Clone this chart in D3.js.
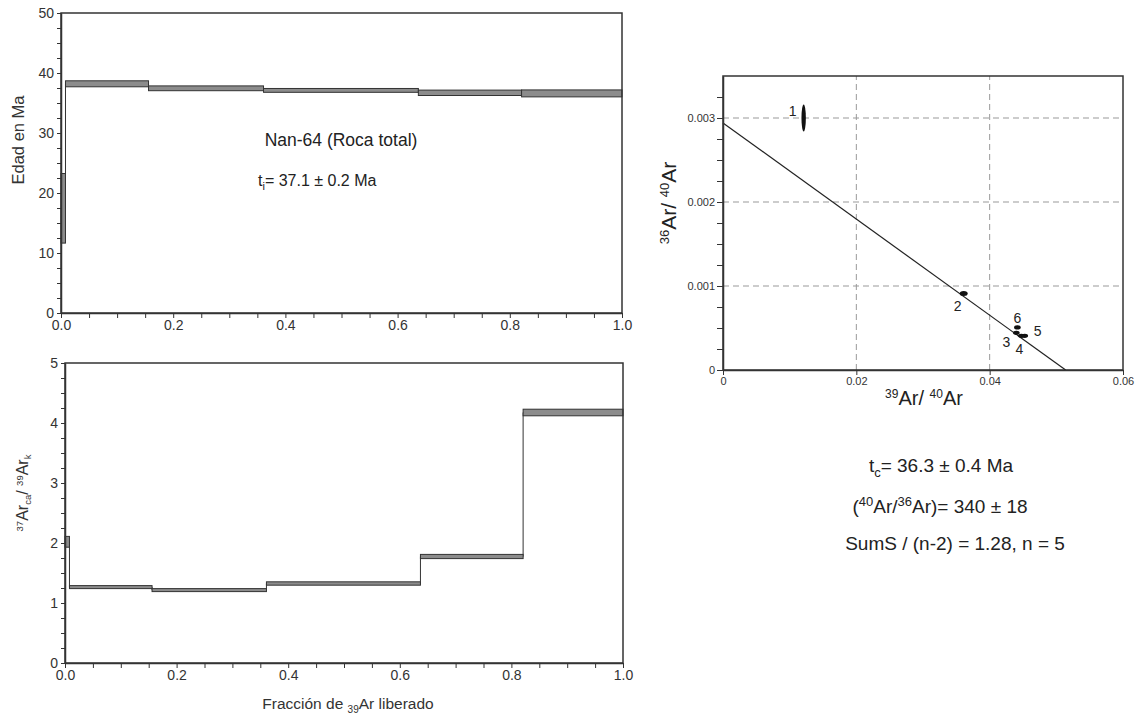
<!DOCTYPE html>
<html>
<head>
<meta charset="utf-8">
<script src="https://cdn.jsdelivr.net/npm/d3@7"></script>
<style>
  body { margin: 0; background: #fff; }
  svg { font-family: "Liberation Sans", Arial, sans-serif; }
  .axis path, .axis line { stroke: #333; }
  .axis text { fill: #333; }
</style>
</head>
<body>
<svg width="1137" height="714"></svg>
<script>
// cumulative 39Ar fraction at the step edges
var fractions = [0, 0.008, 0.156, 0.361, 0.637, 0.821, 1.0];
// apparent ages (Ma) and half widths
var ages = [17.45, 38.2, 37.45, 37.1, 36.7, 36.6];
var ageErr = [5.8, 0.5, 0.4, 0.32, 0.45, 0.58];
// 37Ar_ca / 39Ar_k and half widths
var caK = [2.02, 1.265, 1.215, 1.325, 1.775, 4.175];
var caKErr = [0.09, 0.025, 0.025, 0.028, 0.035, 0.055];
// isochron points
var isoLabels = ['1', '2', '6', '3', '4', '5'];
var isoX = [0.0121, 0.0361, 0.04416, 0.0440, 0.04476, 0.04526];
var isoY = [0.00300, 0.00091, 0.000507, 0.000443, 0.000407, 0.000407];
var isoXErr = [0.00033, 0.0006, 0.0005, 0.0005, 0.0005, 0.0005];
var isoYErr = [0.00016, 0.00003, 0.000025, 0.000025, 0.000025, 0.000025];
// fitted isochron: y intercept and x intercept
var fitLine = [[0, 0.002941], [0.0514, 0]];

var svg = d3.select('svg');

function frame(g, x, y) {
  g.append('rect')
    .attr('x', x.range()[0]).attr('y', y.range()[1])
    .attr('width', x.range()[1] - x.range()[0])
    .attr('height', y.range()[0] - y.range()[1])
    .attr('fill', 'none').attr('stroke', '#333').attr('stroke-width', 1.5);
}

function steps(g, x, y, vals, errs) {
  var pts = [];
  vals.forEach(function(v, i) {
    pts.push([fractions[i], v]);
    pts.push([fractions[i + 1], v]);
  });
  g.append('path')
    .attr('d', d3.line().x(function(d) { return x(d[0]); }).y(function(d) { return y(d[1]); })(pts))
    .attr('fill', 'none').attr('stroke', '#333').attr('stroke-width', 1);
  g.selectAll('rect.box').data(vals).enter()
    .append('rect')
    .classed('box', true)
    .attr('x', function(d, i) { return x(fractions[i]); })
    .attr('width', function(d, i) { return x(fractions[i + 1]) - x(fractions[i]); })
    .attr('y', function(d, i) { return y(d + errs[i]); })
    .attr('height', function(d, i) { return y(d - errs[i]) - y(d + errs[i]); })
    .attr('fill', '#8c8c8c').attr('stroke', '#333').attr('stroke-width', 1);
}

function fracAxis(g, x, y0) {
  g.append('g').attr('class', 'axis')
    .attr('transform', 'translate(0,' + y0 + ')')
    .call(d3.axisBottom(x)
      .tickValues(d3.range(0, 1.001, 0.05))
      .tickSize(5).tickSizeOuter(0).tickPadding(2)
      .tickFormat(function(d) { return Math.round(d * 100) % 20 === 0 ? d3.format('.1f')(d) : ''; }))
    .call(function(a) { a.select('.domain').attr('stroke-width', 1.5); })
    .selectAll('text').style('font-size', '14px');
}

// ---- age spectrum ----
var x1 = d3.scaleLinear().domain([0, 1]).range([61, 622]);
var y1 = d3.scaleLinear().domain([0, 50]).range([313, 13]);
var g1 = svg.append('g');
steps(g1, x1, y1, ages, ageErr);
frame(g1, x1, y1);
fracAxis(g1, x1, 313);
g1.append('g').attr('class', 'axis')
  .attr('transform', 'translate(61,0)')
  .call(d3.axisLeft(y1)
    .tickValues(d3.range(0, 50.01, 2.5))
    .tickSize(4).tickSizeOuter(0).tickPadding(3)
    .tickFormat(function(d) { return d % 10 === 0 ? d : ''; }))
  .call(function(a) { a.select('.domain').attr('stroke-width', 1.5); })
  .selectAll('text').style('font-size', '14px');
g1.append('text')
  .attr('transform', 'translate(24,140) rotate(-90)')
  .attr('text-anchor', 'middle').attr('fill', '#333').style('font-size', '16.5px')
  .text('Edad en Ma');
g1.append('text')
  .attr('x', 341).attr('y', 146).attr('text-anchor', 'middle')
  .attr('fill', '#222').style('font-size', '17.5px')
  .text('Nan-64 (Roca total)');
var ti = g1.append('text').attr('x', 258).attr('y', 186).attr('fill', '#222').style('font-size', '16px');
ti.append('tspan').text('t');
ti.append('tspan').attr('dy', 4).style('font-size', '11px').text('i');
ti.append('tspan').attr('dy', -4).text('= 37.1 \u00b1 0.2 Ma');

// ---- Ca/K spectrum ----
var x2 = d3.scaleLinear().domain([0, 1]).range([65, 623]);
var y2 = d3.scaleLinear().domain([0, 5]).range([663, 363]);
var g2 = svg.append('g');
steps(g2, x2, y2, caK, caKErr);
frame(g2, x2, y2);
fracAxis(g2, x2, 663);
g2.append('g').attr('class', 'axis')
  .attr('transform', 'translate(65,0)')
  .call(d3.axisLeft(y2)
    .tickValues(d3.range(0, 5.001, 0.25))
    .tickSize(4).tickSizeOuter(0).tickPadding(3)
    .tickFormat(function(d) { return d % 1 === 0 ? d : ''; }))
  .call(function(a) { a.select('.domain').attr('stroke-width', 1.5); })
  .selectAll('text').style('font-size', '14px');
var ylab2 = g2.append('text')
  .attr('transform', 'translate(28,493) rotate(-90)')
  .attr('text-anchor', 'middle').attr('fill', '#333').style('font-size', '16px');
ylab2.append('tspan').attr('dy', -5).style('font-size', '9.5px').text('37');
ylab2.append('tspan').attr('dy', 5).text('Ar');
ylab2.append('tspan').attr('dy', 3).style('font-size', '9.5px').text('ca');
ylab2.append('tspan').attr('dy', -3).text('/ ');
ylab2.append('tspan').attr('dy', -5).style('font-size', '9.5px').text('39');
ylab2.append('tspan').attr('dy', 5).text('Ar');
ylab2.append('tspan').attr('dy', 3).style('font-size', '9.5px').text('k');
var xlab2 = g2.append('text')
  .attr('x', 348).attr('y', 709).attr('text-anchor', 'middle')
  .attr('fill', '#333').style('font-size', '15.5px');
xlab2.append('tspan').text('Fracci\u00f3n de ');
xlab2.append('tspan').attr('dy', 4).style('font-size', '10px').text('39');
xlab2.append('tspan').attr('dy', -4).text('Ar liberado');

// ---- isochron ----
var x3 = d3.scaleLinear().domain([0, 0.06]).range([723, 1123]);
var y3 = d3.scaleLinear().domain([0, 0.0035]).range([370, 76]);
var g3 = svg.append('g');
g3.selectAll('line.vgrid').data([0.02, 0.04]).enter()
  .append('line').classed('vgrid', true)
  .attr('x1', function(d) { return x3(d); }).attr('x2', function(d) { return x3(d); })
  .attr('y1', y3(0)).attr('y2', y3(0.0035))
  .attr('stroke', '#999').attr('stroke-dasharray', '6,4');
g3.selectAll('line.hgrid').data([0.001, 0.002, 0.003]).enter()
  .append('line').classed('hgrid', true)
  .attr('y1', function(d) { return y3(d); }).attr('y2', function(d) { return y3(d); })
  .attr('x1', x3(0)).attr('x2', x3(0.06))
  .attr('stroke', '#999').attr('stroke-dasharray', '6,4');
frame(g3, x3, y3);
g3.append('path')
  .attr('d', d3.line().x(function(d) { return x3(d[0]); }).y(function(d) { return y3(d[1]); })(fitLine))
  .attr('fill', 'none').attr('stroke', '#222').attr('stroke-width', 1.2);
g3.selectAll('ellipse').data(isoX).enter()
  .append('ellipse')
  .attr('cx', function(d) { return x3(d); })
  .attr('cy', function(d, i) { return y3(isoY[i]); })
  .attr('rx', function(d, i) { return x3(d + isoXErr[i]) - x3(d); })
  .attr('ry', function(d, i) { return y3(isoY[i] - isoYErr[i]) - y3(isoY[i]); })
  .attr('fill', '#111');
// label offsets from each ellipse centre
var labelOffset = { '1': [-11, -2], '2': [-6, 17], '6': [0, -4], '3': [-10, 14], '4': [-2, 18], '5': [13, 0] };
g3.selectAll('text.pt').data(isoLabels).enter()
  .append('text').classed('pt', true)
  .attr('x', function(d, i) { return x3(isoX[i]) + labelOffset[d][0]; })
  .attr('y', function(d, i) { return y3(isoY[i]) + labelOffset[d][1]; })
  .attr('text-anchor', 'middle').attr('fill', '#222').style('font-size', '14px')
  .text(function(d) { return d; });
g3.append('g').attr('class', 'axis')
  .attr('transform', 'translate(0,370)')
  .call(d3.axisBottom(x3)
    .tickValues([0, 0.02, 0.04, 0.06])
    .tickSize(5).tickSizeOuter(0).tickPadding(2)
    .tickFormat(function(d) { return d === 0 ? '0' : d3.format('.2f')(d); }))
  .call(function(a) { a.select('.domain').attr('stroke-width', 1.5); })
  .selectAll('text').style('font-size', '11px');
g3.append('g').attr('class', 'axis')
  .attr('transform', 'translate(723,0)')
  .call(d3.axisLeft(y3)
    .tickValues(d3.range(0, 14).map(function(k) { return k * 0.00025; }))
    .tickSize(6).tickSizeOuter(0).tickPadding(2)
    .tickFormat(function(d) {
      var k = Math.round(d / 0.00025);
      return k % 4 === 0 ? (k === 0 ? '0' : d3.format('.3f')(d)) : '';
    }))
  .call(function(a) { a.select('.domain').attr('stroke-width', 1.5); })
  .selectAll('text').style('font-size', '11px');
var ylab3 = g3.append('text')
  .attr('transform', 'translate(676,203) rotate(-90)')
  .attr('text-anchor', 'middle').attr('fill', '#222').style('font-size', '21px');
ylab3.append('tspan').attr('dy', -7).style('font-size', '13px').text('36');
ylab3.append('tspan').attr('dy', 7).text('Ar/ ');
ylab3.append('tspan').attr('dy', -7).style('font-size', '13px').text('40');
ylab3.append('tspan').attr('dy', 7).text('Ar');
var xlab3 = g3.append('text')
  .attr('x', 924).attr('y', 405).attr('text-anchor', 'middle')
  .attr('fill', '#222').style('font-size', '20px');
xlab3.append('tspan').attr('dy', -7).style('font-size', '12px').text('39');
xlab3.append('tspan').attr('dy', 7).text('Ar/ ');
xlab3.append('tspan').attr('dy', -7).style('font-size', '12px').text('40');
xlab3.append('tspan').attr('dy', 7).text('Ar');

// ---- isochron results ----
var r1 = svg.append('text').attr('x', 941).attr('y', 472).attr('text-anchor', 'middle')
  .attr('fill', '#222').style('font-size', '19px');
r1.append('tspan').text('t');
r1.append('tspan').attr('dy', 5).style('font-size', '13px').text('c');
r1.append('tspan').attr('dy', -5).text('= 36.3 \u00b1 0.4 Ma');
var r2 = svg.append('text').attr('x', 940).attr('y', 513).attr('text-anchor', 'middle')
  .attr('fill', '#222').style('font-size', '19px');
r2.append('tspan').text('(');
r2.append('tspan').attr('dy', -7).style('font-size', '13px').text('40');
r2.append('tspan').attr('dy', 7).text('Ar/');
r2.append('tspan').attr('dy', -7).style('font-size', '13px').text('36');
r2.append('tspan').attr('dy', 7).text('Ar)= 340 \u00b1 18');
svg.append('text').attr('x', 955).attr('y', 550).attr('text-anchor', 'middle')
  .attr('fill', '#222').style('font-size', '19px')
  .text('SumS / (n-2) = 1.28, n = 5');
</script>
</body>
</html>
